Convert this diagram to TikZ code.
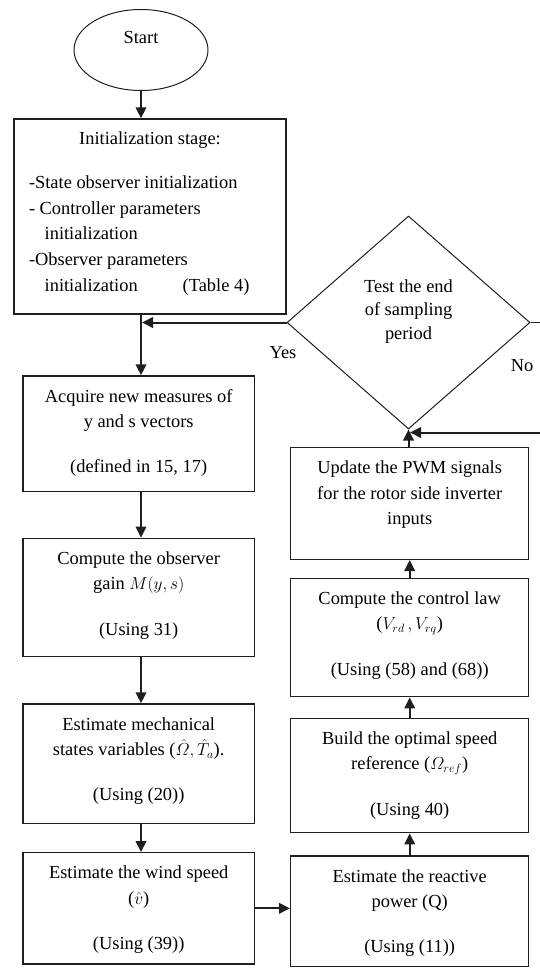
\documentclass[tikz,border=0pt]{standalone}
\usepackage{fontspec}
\setmainfont{Liberation Serif}
\usepackage{amsmath}
\usetikzlibrary{shapes.geometric,arrows.meta}
\newcommand{\bxt}[3]{\parbox[c][#2][t]{#1}{\centering\rule{0pt}{26pt}#3\par}}
\definecolor{ink}{HTML}{1E1E1E}
\tikzset{
  box/.style={draw=ink, rectangle, inner sep=0pt, line width=1.4pt},
  arr/.style={draw=ink, line width=2pt, -{Triangle[length=11pt,width=10.5pt]}},
  lbl/.style={inner sep=1pt}
}
\begin{document}
\begin{tikzpicture}[x=1pt,y=-1pt,font=\fontsize{18.4}{25.5}\selectfont]
\useasboundingbox (0,0) rectangle (539,968);
% start
\node[draw=ink, ellipse, minimum width=134pt, minimum height=81pt, inner sep=0pt, line width=1pt, text height=13pt, text depth=25pt] (start) at (141,50) {Start};
% init
\node[box] (init) at (150,216.5) {\parbox[c][195pt][t]{272pt}{%
\centering\rule{0pt}{26pt}Initialization stage:\par
\vspace{18.5pt}%
\raggedright\leftskip=15pt
-State observer initialization\\
- Controller parameters\\
\hspace*{15.7pt}initialization\\
-Observer parameters\\
\hspace*{15.7pt}initialization\hspace{45pt}(Table 4)\par}};
% left column
\node[box] (acq) at (138.7,433.85) {\bxt{231.4pt}{115.7pt}{Acquire new measures of\\y and s vectors\\[19.8pt](defined in 15, 17)}};
\node[box] (comp) at (138.7,597.5) {\bxt{231.4pt}{118.4pt}{Compute the observer\\gain $M(y,s)$\\[19.8pt](Using 31)}};
\node[box] (est) at (138.7,763.65) {\bxt{231.4pt}{119.3pt}{Estimate mechanical\\states variables ($\hat{\varOmega},\hat{T}_a$).\\[19.8pt](Using (20))}};
\node[box] (wind) at (138.7,908.35) {\bxt{231.4pt}{111.3pt}{Estimate the wind speed\\($\hat{v}$)\\[19.8pt](Using (39))}};
% right column
\node[box] (upd) at (409.7,503.5) {\bxt{238pt}{111.6pt}{Update the PWM signals\\for the rotor side inverter\\inputs}};
\node[box] (ctl) at (409.7,637.5) {\bxt{238pt}{118.4pt}{Compute the control law\\($V_{rd}\,, V_{rq}$)\\[19.8pt](Using (58) and (68))}};
\node[box] (bld) at (409.7,775.5) {\bxt{238pt}{114.4pt}{Build the optimal speed\\reference ($\varOmega_{ref}$)\\[19.8pt](Using 40)}};
\node[box] (rea) at (409.7,911.35) {\bxt{238pt}{110.7pt}{Estimate the reactive\\power (Q)\\[19.8pt](Using (11))}};
% decision
\node[draw=ink, diamond, minimum width=243pt, minimum height=213pt, inner sep=0pt, line width=1pt] (dia) at (408.5,322.5) {\parbox[c][86pt][t]{110pt}{\centering\baselineskip=23.5pt Test the end\\of sampling\\period\par}};
\node[lbl] (yes) at (283,353) {Yes};
\node[lbl] (no) at (522,366) {No};
% connectors
\draw[arr] (start.south) -- (start.south |- init.north);
\draw[arr] (start |- init.south) -- (start |- acq.north);
\draw[arr] (dia.west) -- ([xshift=1pt]dia.west -| start);
\draw[arr] (start |- acq.south) -- (start |- comp.north);
\draw[arr] (start |- comp.south) -- (start |- est.north);
\draw[arr] (start |- est.south) -- (start |- wind.north);
\draw[arr] (wind.east) -- (wind.east -| rea.west);
\draw[arr] (rea.north) -- (bld.south);
\draw[arr] (bld.north) -- (ctl.south);
\draw[arr] (ctl.north) -- (upd.south);
\draw[arr] (dia.south |- upd.north) -- (dia.south);
\draw[draw=ink, line width=1.2pt] (dia.east) -- ++(20pt,0) coordinate (nc);
\draw[arr] (nc) |- ([xshift=1.5pt,yshift=-3pt]dia.south);
\end{tikzpicture}
\end{document}
